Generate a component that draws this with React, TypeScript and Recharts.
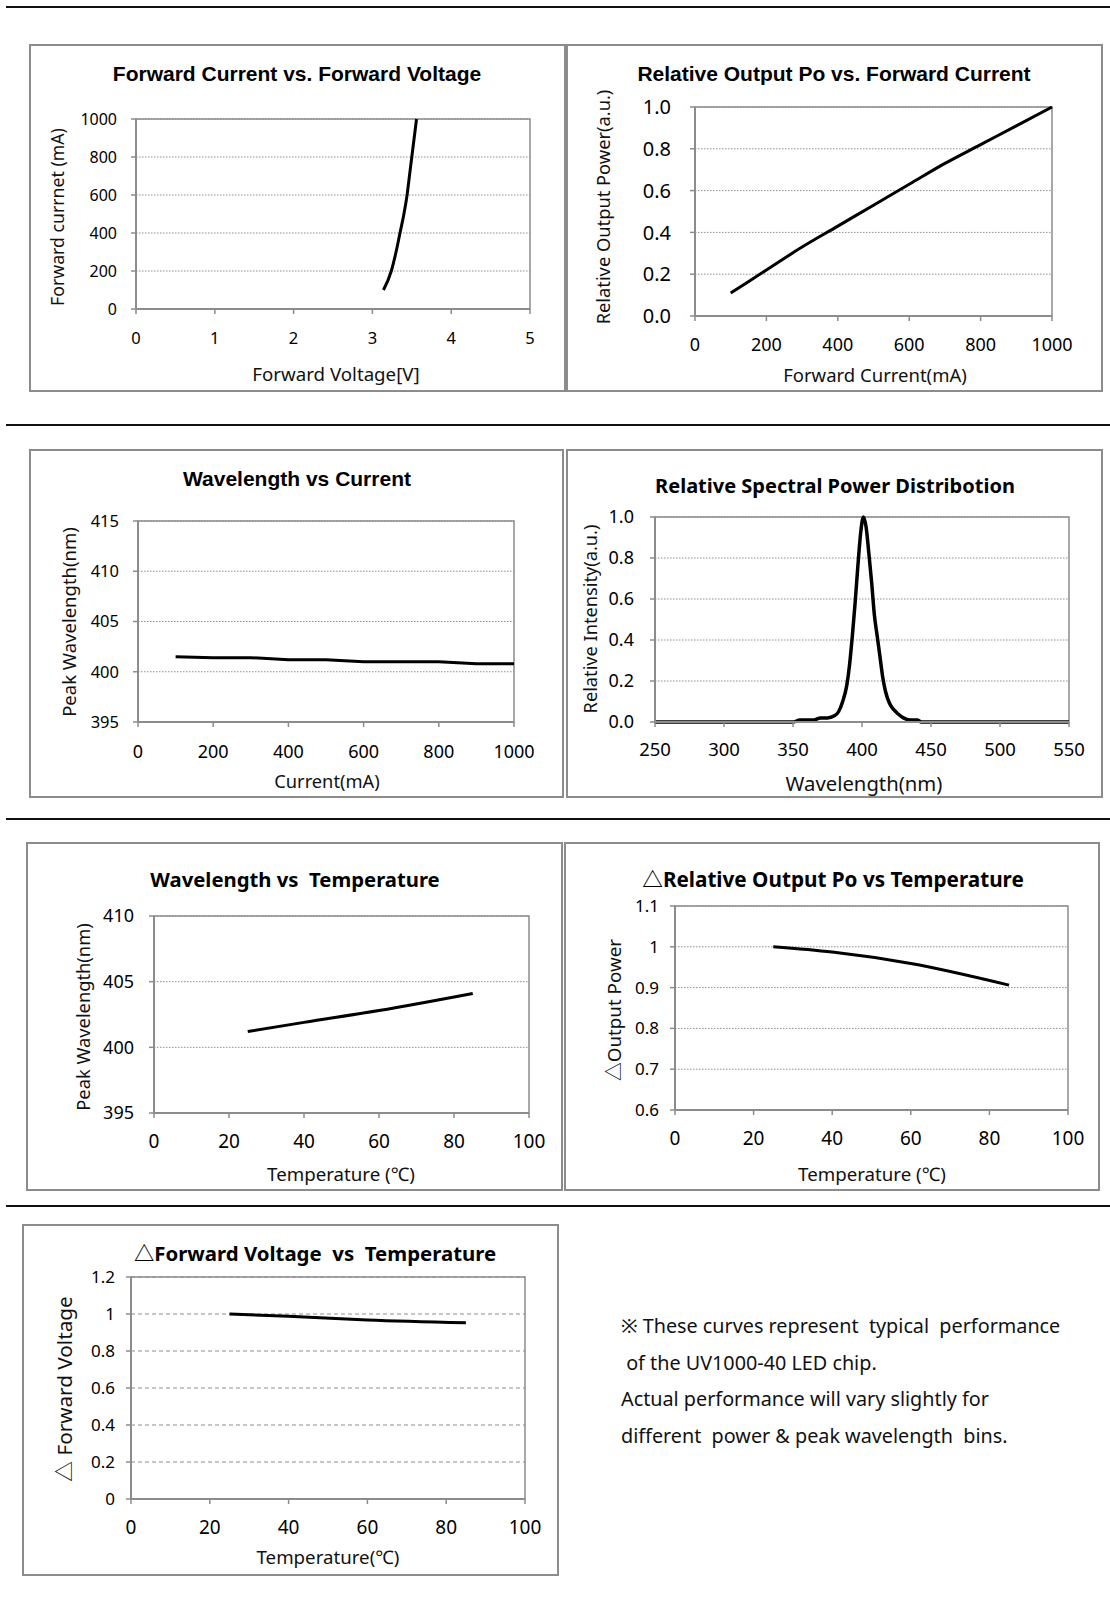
import React from "react";
import {
  LineChart,
  Line,
  XAxis,
  YAxis,
  CartesianGrid,
  ReferenceArea,
} from "recharts";

const SANS = '"Noto Sans", "Open Sans", "Noto Sans CJK KR", sans-serif';
const ARIAL = '"Liberation Sans", Arial, sans-serif';

// forward current vs forward voltage
const ivVoltage = [3.14, 3.24, 3.3, 3.35, 3.4, 3.44, 3.47, 3.5, 3.53, 3.56];
const ivCurrent = [100, 200, 300, 400, 500, 600, 700, 800, 900, 1000];
const ivVoltTicks = [0, 1, 2, 3, 4, 5];
const ivCurrTicks = [0, 200, 400, 600, 800, 1000];

// relative output power vs forward current
const poCurrent = [100, 200, 300, 400, 500, 600, 700, 800, 900, 1000];
const poRelative = [0.11, 0.22, 0.33, 0.43, 0.53, 0.63, 0.73, 0.82, 0.91, 1.0];
const poCurrTicks = [0, 200, 400, 600, 800, 1000];
const poRelTicks = [0, 0.2, 0.4, 0.6, 0.8, 1.0];

// peak wavelength vs current
const wlCurrent = [100, 200, 300, 400, 500, 600, 700, 800, 900, 1000];
const wlPeak = [401.5, 401.4, 401.4, 401.2, 401.2, 401.0, 401.0, 401.0, 400.8, 400.8];
const wlCurrTicks = [0, 200, 400, 600, 800, 1000];
const wlPeakTicks = [395, 400, 405, 410, 415];

// relative spectral power distribution
const spWavelength = [
  250, 300, 350, 355, 360, 365, 370, 375, 380, 383, 386, 389, 391, 393, 395,
  397, 399, 401, 403, 405, 407, 409, 411, 413, 415, 417, 420, 423, 426, 430,
  435, 440, 443, 450, 500, 550,
];
const spIntensity = [
  0, 0, 0, 0.01, 0.01, 0.01, 0.02, 0.02, 0.03, 0.05, 0.1, 0.18, 0.28, 0.42,
  0.58, 0.76, 0.92, 1.0, 0.95, 0.82, 0.68, 0.52, 0.42, 0.32, 0.22, 0.15, 0.09,
  0.06, 0.04, 0.02, 0.01, 0.01, 0, 0, 0, 0,
];
const spWlTicks = [250, 300, 350, 400, 450, 500, 550];
const spIntTicks = [0, 0.2, 0.4, 0.6, 0.8, 1.0];

// peak wavelength vs temperature
const wtTemp = [25, 40, 60, 85];
const wtPeak = [401.2, 401.9, 402.8, 404.1];
const tempTicks = [0, 20, 40, 60, 80, 100];
const wtPeakTicks = [395, 400, 405, 410];

// relative output power vs temperature
const ptTemp = [25, 40, 60, 85];
const ptPower = [1.0, 0.987, 0.959, 0.906];
const ptPowerTicks = [0.6, 0.7, 0.8, 0.9, 1, 1.1];

// forward voltage vs temperature
const vtTemp = [25, 40, 60, 85];
const vtVolt = [1.0, 0.988, 0.968, 0.953];
const vtVoltTicks = [0, 0.2, 0.4, 0.6, 0.8, 1, 1.2];

const noteLines = [
  "※ These curves represent  typical  performance",
  " of the UV1000-40 LED chip.",
  "Actual performance will vary slightly for",
  "different  power & peak wavelength  bins.",
];

const toPoints = (xs: number[], ys: number[]) =>
  xs.map((x, i) => ({ x, y: ys[i] }));

type Rect = { l: number; t: number; r: number; b: number };

type PanelProps = {
  box: Rect;
  plot: Rect;
  data: { x: number; y: number }[];
  xTicks: number[];
  yTicks: number[];
  yFmt?: (v: number) => string;
  title: string;
  titleFont: string;
  titleSize: number;
  titleAt: [number, number];
  xLabel: string;
  xLabelAt: [number, number];
  xLabelSize: number;
  yLabel: string;
  yLabelAt: [number, number];
  yLabelSize: number;
  xTickSize: number;
  yTickSize: number;
  xTickGap: number;
  yTickGap: number;
  gridDash?: string;
  lineWidth?: number;
  curve?: "monotone" | "linear";
};

const GRAY = "#8c8c8c";

const Panel = (p: PanelProps) => {
  const { box, plot } = p;
  const w = box.r - box.l;
  const h = box.b - box.t;
  const xd: [number, number] = [p.xTicks[0], p.xTicks[p.xTicks.length - 1]];
  const yd: [number, number] = [p.yTicks[0], p.yTicks[p.yTicks.length - 1]];
  return (
    <>
      <div
        style={{
          position: "absolute",
          left: box.l,
          top: box.t,
          width: w,
          height: h,
          border: `2px solid ${GRAY}`,
          boxSizing: "border-box",
        }}
      />
      <div style={{ position: "absolute", left: box.l, top: box.t }}>
        <LineChart
          width={w}
          height={h}
          data={p.data}
          margin={{ top: plot.t - box.t, right: box.r - plot.r, bottom: 0, left: 0 }}
        >
          <CartesianGrid
            vertical={false}
            stroke="#8e8e8e"
            strokeDasharray={p.gridDash ?? "1.5 1.5"}
          />
          <ReferenceArea
            x1={xd[0]}
            x2={xd[1]}
            y1={yd[0]}
            y2={yd[1]}
            fill="none"
            stroke={GRAY}
            strokeWidth={1.5}
          />
          <XAxis
            type="number"
            dataKey="x"
            domain={xd}
            ticks={p.xTicks}
            interval={0}
            height={box.b - plot.b}
            axisLine={{ stroke: GRAY, strokeWidth: 2 }}
            tickLine={{ stroke: GRAY, strokeWidth: 1.5 }}
            tickSize={5}
            tickMargin={p.xTickGap}
            tick={{ fill: "#000", fontSize: p.xTickSize, fontFamily: SANS }}
          />
          <YAxis
            type="number"
            domain={yd}
            ticks={p.yTicks}
            interval={0}
            width={plot.l - box.l}
            axisLine={{ stroke: GRAY, strokeWidth: 2 }}
            tickLine={{ stroke: GRAY, strokeWidth: 1.5 }}
            tickSize={5}
            tickMargin={p.yTickGap}
            tickFormatter={p.yFmt}
            tick={{ fill: "#000", fontSize: p.yTickSize, fontFamily: SANS }}
          />
          <Line
            type={p.curve ?? "monotone"}
            dataKey="y"
            stroke="#000"
            strokeWidth={p.lineWidth ?? 3}
            dot={false}
            activeDot={false}
            isAnimationActive={false}
          />
        </LineChart>
      </div>
      <div
        style={{
          position: "absolute",
          left: p.titleAt[0],
          top: p.titleAt[1],
          transform: "translate(-50%, -50%)",
          whiteSpace: "pre",
          fontFamily: p.titleFont,
          fontWeight: 700,
          fontSize: p.titleSize,
          color: "#000",
          lineHeight: 1,
        }}
      >
        {p.title}
      </div>
      <div
        style={{
          position: "absolute",
          left: p.xLabelAt[0],
          top: p.xLabelAt[1],
          transform: "translate(-50%, -50%)",
          whiteSpace: "pre",
          fontFamily: SANS,
          fontSize: p.xLabelSize,
          color: "#111",
          lineHeight: 1,
        }}
      >
        {p.xLabel}
      </div>
      <div
        style={{
          position: "absolute",
          left: p.yLabelAt[0],
          top: p.yLabelAt[1],
          transform: "translate(-50%, -50%) rotate(-90deg)",
          whiteSpace: "pre",
          fontFamily: SANS,
          fontSize: p.yLabelSize,
          color: "#111",
          lineHeight: 1,
        }}
      >
        {p.yLabel}
      </div>
    </>
  );
};

const fmt1 = (v: number) => v.toFixed(1);

const Rule = ({ y }: { y: number }) => (
  <div
    style={{
      position: "absolute",
      left: 6,
      top: y - 1,
      width: 1104,
      height: 2,
      background: "#111",
    }}
  />
);

const App = () => {
  return (
    <div
      style={{
        position: "absolute",
        left: 0,
        top: 0,
        width: 1110,
        height: 1600,
        background: "#fff",
        overflow: "hidden",
      }}
    >
      <Rule y={7} />
      <Rule y={425} />
      <Rule y={819} />
      <Rule y={1206} />

      <Panel
        box={{ l: 29, t: 44, r: 566, b: 392 }}
        plot={{ l: 136, t: 119, r: 530, b: 309 }}
        data={toPoints(ivVoltage, ivCurrent)}
        xTicks={ivVoltTicks}
        yTicks={ivCurrTicks}
        title="Forward Current vs. Forward Voltage"
        titleFont={ARIAL}
        titleSize={21}
        titleAt={[297, 73]}
        xLabel="Forward Voltage[V]"
        xLabelAt={[336, 374]}
        xLabelSize={18.7}
        yLabel="Forward currnet (mA)"
        yLabelAt={[58, 217]}
        yLabelSize={17.7}
        xTickSize={16.5}
        yTickSize={16}
        xTickGap={18}
        yTickGap={14}
      />
      <Panel
        box={{ l: 566, t: 44, r: 1103, b: 392 }}
        plot={{ l: 695, t: 107, r: 1052, b: 316 }}
        data={toPoints(poCurrent, poRelative)}
        xTicks={poCurrTicks}
        yTicks={poRelTicks}
        yFmt={fmt1}
        title="Relative Output Po vs. Forward Current"
        titleFont={ARIAL}
        titleSize={21}
        titleAt={[834, 73]}
        xLabel="Forward Current(mA)"
        xLabelAt={[875, 375]}
        xLabelSize={18.5}
        yLabel="Relative Output Power(a.u.)"
        yLabelAt={[603, 207]}
        yLabelSize={18.3}
        xTickSize={18}
        yTickSize={20}
        xTickGap={17}
        yTickGap={19}
      />
      <Panel
        box={{ l: 29, t: 449, r: 564, b: 798 }}
        plot={{ l: 138, t: 521, r: 514, b: 722 }}
        data={toPoints(wlCurrent, wlPeak)}
        xTicks={wlCurrTicks}
        yTicks={wlPeakTicks}
        curve="linear"
        title="Wavelength vs Current"
        titleFont={ARIAL}
        titleSize={21}
        titleAt={[297, 478]}
        xLabel="Current(mA)"
        xLabelAt={[327, 781]}
        xLabelSize={18.3}
        yLabel="Peak Wavelength(nm)"
        yLabelAt={[69, 622]}
        yLabelSize={18.5}
        xTickSize={18}
        yTickSize={16.5}
        xTickGap={18}
        yTickGap={14}
      />
      <Panel
        box={{ l: 566, t: 449, r: 1103, b: 798 }}
        plot={{ l: 655, t: 517, r: 1069, b: 722 }}
        data={toPoints(spWavelength, spIntensity)}
        xTicks={spWlTicks}
        yTicks={spIntTicks}
        yFmt={fmt1}
        lineWidth={3.5}
        title="Relative Spectral Power Distribotion"
        titleFont={SANS}
        titleSize={20}
        titleAt={[835, 486]}
        xLabel="Wavelength(nm)"
        xLabelAt={[864, 783]}
        xLabelSize={20.3}
        yLabel="Relative Intensity(a.u.)"
        yLabelAt={[590, 619]}
        yLabelSize={18.2}
        xTickSize={18.5}
        yTickSize={18}
        xTickGap={16}
        yTickGap={16}
      />
      <Panel
        box={{ l: 26, t: 842, r: 563, b: 1191 }}
        plot={{ l: 154, t: 916, r: 529, b: 1113 }}
        data={toPoints(wtTemp, wtPeak)}
        xTicks={tempTicks}
        yTicks={wtPeakTicks}
        title="Wavelength vs  Temperature"
        titleFont={SANS}
        titleSize={20.3}
        titleAt={[295, 879]}
        xLabel="Temperature (℃)"
        xLabelAt={[341, 1174]}
        xLabelSize={18.7}
        yLabel="Peak Wavelength(nm)"
        yLabelAt={[83, 1017]}
        yLabelSize={18.3}
        xTickSize={19}
        yTickSize={18}
        xTickGap={17}
        yTickGap={15}
      />
      <Panel
        box={{ l: 564, t: 842, r: 1100, b: 1191 }}
        plot={{ l: 675, t: 906, r: 1068, b: 1110 }}
        data={toPoints(ptTemp, ptPower)}
        xTicks={tempTicks}
        yTicks={ptPowerTicks}
        title="△Relative Output Po vs Temperature"
        titleFont={SANS}
        titleSize={20.7}
        titleAt={[833, 879]}
        xLabel="Temperature (℃)"
        xLabelAt={[872, 1174]}
        xLabelSize={18.7}
        yLabel="△Output Power"
        yLabelAt={[614, 1010]}
        yLabelSize={18.8}
        xTickSize={19}
        yTickSize={17}
        xTickGap={17}
        yTickGap={11}
      />
      <Panel
        box={{ l: 22, t: 1224, r: 559, b: 1576 }}
        plot={{ l: 131, t: 1277, r: 525, b: 1499 }}
        data={toPoints(vtTemp, vtVolt)}
        xTicks={tempTicks}
        yTicks={vtVoltTicks}
        gridDash="4 3"
        title="△Forward Voltage  vs  Temperature"
        titleFont={SANS}
        titleSize={20.4}
        titleAt={[315, 1253]}
        xLabel="Temperature(℃)"
        xLabelAt={[328, 1557]}
        xLabelSize={18.7}
        yLabel="△ Forward Voltage"
        yLabelAt={[64, 1389]}
        yLabelSize={20.7}
        xTickSize={19}
        yTickSize={17}
        xTickGap={17}
        yTickGap={11}
      />

      <div
        style={{
          position: "absolute",
          left: 621,
          top: 1308,
          fontFamily: SANS,
          fontSize: 19.8,
          lineHeight: "36.7px",
          color: "#111",
          whiteSpace: "pre",
        }}
      >
        {noteLines.map((line, i) => (
          <div key={i}>{line}</div>
        ))}
      </div>
    </div>
  );
};

export default App;
